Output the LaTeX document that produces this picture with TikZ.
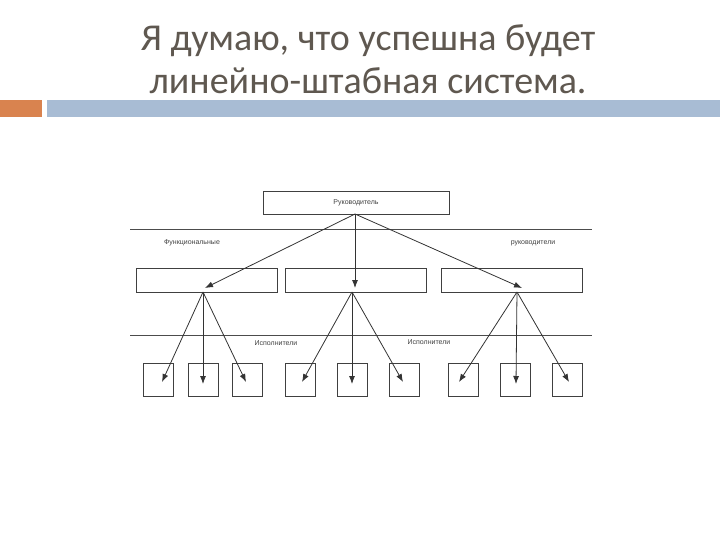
\documentclass[tikz,border=0pt]{standalone}
\usepackage{fontspec}
\setmainfont{Carlito}
\newfontfamily\lblfont{Liberation Sans}
\usetikzlibrary{arrows.meta}
\begin{document}
\begin{tikzpicture}[x=1pt,y=-1pt,
  bx/.style={draw=black!75,line width=0.9pt},
  ar/.style={draw=black!80,line width=0.8pt,-{Latex[length=8pt,width=6pt]}},
  ln/.style={draw=black!70,line width=0.8pt},
  lb/.style={font=\lblfont\fontsize{7}{8}\selectfont,text=black!75,inner sep=0}]
\useasboundingbox (0,0) rectangle (720,540);
\node[font=\fontsize{38}{43}\selectfont,text={rgb,255:red,95;green,88;blue,80},align=center] (t) at (368,59) {Я думаю, что успешна будет\\линейно-штабная система.};
\fill[color={rgb,255:red,217;green,131;blue,79}] (0,100) rectangle (42,117);
\fill[color={rgb,255:red,168;green,188;blue,212}] (47,100) rectangle (720,117);
\node[bx,minimum width=186,minimum height=23,inner sep=0,font=\lblfont\fontsize{7}{8}\selectfont,text=black!75] (top) at (356,202.5) {Руководитель};
\draw[ln] (130,229) -- (592,229);
\draw[ln] (130,335) -- (592,335);
\node[lb] (f) at (192,243) {Функциональные};
\node[lb] (r) at (533,243) {руководители};
\node[lb] (i1) at (276,343) {Исполнители};
\node[lb] (i2) at (429,342) {Исполнители};
\node[bx,minimum width=141,minimum height=24,inner sep=0] (m1) at (206.5,280) {};
\node[bx,minimum width=141,minimum height=24,inner sep=0] (m2) at (355.5,280) {};
\node[bx,minimum width=141,minimum height=24,inner sep=0] (m3) at (511.5,280) {};
\foreach \n/\x in {1/158,2/203,3/247,4/300,5/352,6/404,7/463,8/515,9/567}
  \node[bx,minimum width=30,minimum height=33,inner sep=0] (b\n) at (\x,379.5) {};
\coordinate (s0) at (355,214);
\coordinate (s1) at (203,292);
\coordinate (s2) at (352,292);
\coordinate (s3) at (517,292);
\draw[ar] (s0) -- (205,288);
\draw[ar] (s0) -- (355,288);
\draw[ar] (s0) -- (522,288);
\draw[ar] (s1) -- (162,382);
\draw[ar] (s1) -- (203,384);
\draw[ar] (s1) -- (246,382);
\draw[ar] (s2) -- (302,382);
\draw[ar] (s2) -- (352,384);
\draw[ar] (s2) -- (403,382);
\draw[ar] (s3) -- (459,382);
\draw[ar] (s3) -- (516,384);
\draw[ar] (s3) -- (569,382);
\end{tikzpicture}
\end{document}
